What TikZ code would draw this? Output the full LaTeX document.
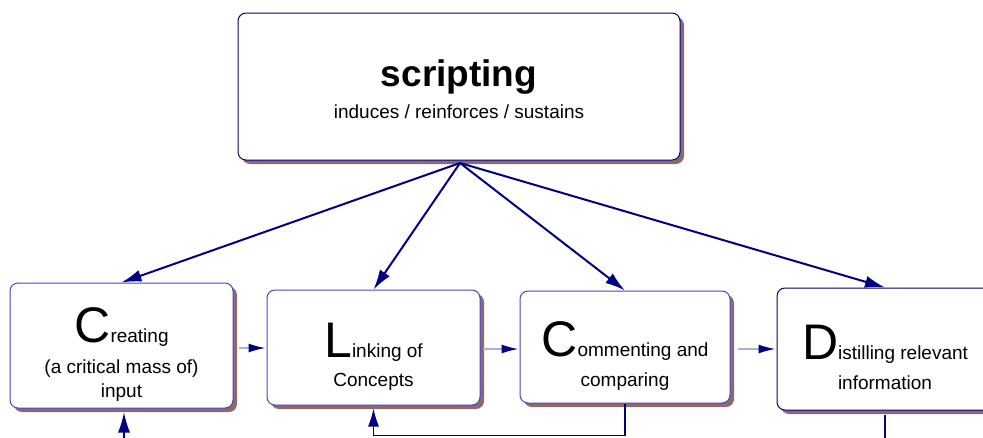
\documentclass[tikz,border=0pt]{standalone}
\usepackage{fontspec}
\setmainfont{Liberation Sans}
\usetikzlibrary{arrows.meta,shadows}
\definecolor{navy}{RGB}{0,0,128}
\definecolor{boxblue}{RGB}{70,70,200}
\definecolor{shadowbrown}{RGB}{140,105,110}
\definecolor{paleblue}{RGB}{170,175,220}
\newcommand{\initial}[1]{{\fontsize{50}{50}\selectfont\rule{0pt}{52pt}#1}}

\begin{document}
\begin{tikzpicture}[x=1pt,y=-1pt]
\tikzset{phase/.style={draw=boxblue,line width=1pt,fill=white,rounded corners=8pt,
    align=center,inner sep=0pt,font=\fontsize{19}{24}\selectfont,
    drop shadow={shadow xshift=4pt,shadow yshift=-4pt,fill=shadowbrown,opacity=1}},
  fanarrow/.style={draw=navy,line width=2pt,-{Latex[length=20pt,width=12pt]}},
  flowarrow/.style={draw=paleblue,line width=1.5pt,-{Latex[length=17pt,width=9pt,color=navy]}},
  backline/.style={draw=navy,line width=1.2pt}}
\clip (0,0) rectangle (983,437);
\fill[white] (0,0) rectangle (983,437);
% top box
\node[phase,draw=navy,minimum width=442pt,minimum height=147pt] (script) at (459,86.5)
  {\rule{0pt}{32pt}{\fontsize{37}{37}\selectfont\bfseries scripting}\\[8pt]induces / reinforces / sustains};
% the four phases
\node[phase,minimum width=223pt,minimum height=125pt] (creating) at (121.5,345.5)
  {\initial{C}reating\\[7pt](a critical mass of)\\input};
\node[phase,minimum width=213pt,minimum height=115pt] (linking) at (373.5,347.5)
  {\initial{L}inking of\\[5pt]Concepts};
\node[phase,minimum width=210pt,minimum height=112pt] (commenting) at (625,347)
  {\initial{C}ommenting and\\[6pt]comparing};
\node[phase,draw=navy,minimum width=216pt,minimum height=122pt] (distilling) at (885,349)
  {\initial{D}istilling relevant\\[6pt]information};
% fan of arrows
\coordinate (apex) at (460,163);
\foreach \n in {creating,linking,commenting,distilling}
  \draw[fanarrow] (apex) -- (\n.north);
% flow between phases
\draw[flowarrow,shorten <=5pt,shorten >=1pt] (creating.east |- 0,348) -- (linking.west |- 0,348);
\draw[flowarrow,shorten <=2pt,shorten >=1pt] (linking.east |- 0,349) -- (commenting.west |- 0,349);
\draw[flowarrow,shorten <=7pt,shorten >=1pt] (commenting.east |- 0,349) -- (distilling.west |- 0,349);
% lines at the bottom
\coordinate (infeed) at (124,445);
\draw[fanarrow,line width=1.2pt,shorten >=4pt] (infeed) -- (creating.south -| infeed);
\draw[backline,-{Latex[length=18pt,width=11pt]},shorten >=3pt]
  (commenting.south) -- ++(0,32) -| (linking.south);
\draw[backline] ([yshift=-4pt]distilling.south) -- ++(0,40);
\end{tikzpicture}
\end{document}
